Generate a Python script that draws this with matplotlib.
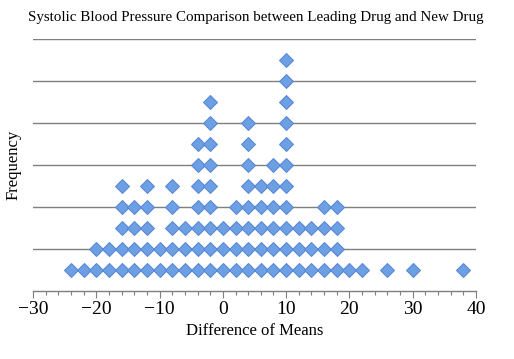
import matplotlib
matplotlib.use("Agg")
import matplotlib.pyplot as plt
from matplotlib.ticker import MultipleLocator
import numpy as np

# difference of means (x) and how many diamonds are stacked at each
diffs = [-24, -22, -20, -18, -16, -14, -12, -10, -8, -6, -4, -2, 0, 2, 4, 6, 8,
         10, 12, 14, 16, 18, 20, 22, 26, 30, 38]
counts = [1, 1, 2, 2, 5, 4, 5, 2, 5, 3, 7, 9, 3, 4, 8, 5, 6,
          11, 3, 3, 4, 4, 1, 1, 1, 1, 1]

title = "Systolic Blood Pressure Comparison between Leading Drug and New Drug"
x_label = "Difference of Means"
y_label = "Frequency"

xs = []
ys = []
for d, c in zip(diffs, counts):
    for k in range(1, c + 1):
        xs.append(d)
        ys.append(k)

plt.rcParams["font.family"] = ["Liberation Serif", "DejaVu Serif"]

fig = plt.figure(figsize=(5.14, 3.59), dpi=100)
ax = fig.add_axes([33 / 514, 1 - 291 / 359, 443 / 514, 252 / 359])

for g in range(2, 13, 2):
    ax.axhline(g, color="#7f7f7f", linewidth=1.0, zorder=1)

ax.plot(xs, ys, linestyle="none", marker="D", markersize=6.9,
        markerfacecolor="#6d9fe5", markeredgecolor="#5585cf",
        markeredgewidth=0.7, zorder=3)

ax.set_xlim(-30, 40)
ax.set_ylim(0, 12)
ax.xaxis.set_major_locator(MultipleLocator(10))
ax.xaxis.set_minor_locator(MultipleLocator(2))
ax.tick_params(axis="x", which="major", length=5, width=0.8, color="#7f7f7f",
               labelsize=14, pad=2)
ax.tick_params(axis="x", which="minor", length=3, width=0.8, color="#7f7f7f")
ax.set_yticks([])

for s in ("top", "right", "left"):
    ax.spines[s].set_visible(False)
ax.spines["bottom"].set_color("#7f7f7f")
ax.spines["bottom"].set_linewidth(1.0)

ax.set_xlabel(x_label, fontsize=12, labelpad=4)
ax.set_ylabel(y_label, fontsize=12, labelpad=8)
fig.text(256 / 514, 1 - 17 / 359, title, ha="center", va="center", fontsize=10.8)

fig.savefig("out.png", dpi=100)
